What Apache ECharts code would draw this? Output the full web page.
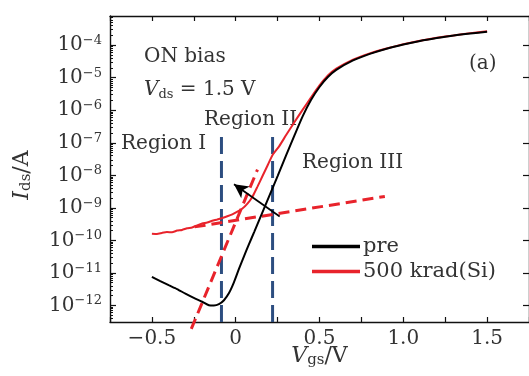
<!DOCTYPE html>
<html>
<head>
<meta charset="utf-8">
<script src="https://cdn.jsdelivr.net/npm/echarts@6/dist/echarts.min.js"></script>
<style>
  html, body { margin: 0; padding: 0; background: #fff; }
  #chart { width: 529px; height: 376px; }
</style>
</head>
<body>
<div id="chart"></div>
<script>
// ---------------- data ----------------
const xTicks = [-0.5, 0, 0.5, 1.0, 1.5];
const yTickExponents = [-12, -11, -10, -9, -8, -7, -6, -5, -4];

// pre-irradiation transfer curve
const vgsPre = [-0.50, -0.45, -0.40, -0.35, -0.30, -0.25, -0.20, -0.16, -0.13, -0.10, -0.07, -0.04, -0.01,
  0.02, 0.05, 0.08, 0.11, 0.15, 0.20, 0.25, 0.30, 0.35, 0.40, 0.45, 0.50, 0.55, 0.60, 0.70, 0.80, 0.90,
  1.00, 1.10, 1.20, 1.30, 1.40, 1.50];
const idsPre = [7.6e-12, 5.6e-12, 4.2e-12, 3.2e-12, 2.3e-12, 1.7e-12, 1.3e-12, 1.02e-12, 1.0e-12, 1.1e-12,
  1.45e-12, 2.4e-12, 5.2e-12, 1.35e-11, 3.3e-11, 7.8e-11, 1.8e-10, 5.6e-10, 2.3e-9, 9.5e-9, 4.0e-8, 1.66e-7,
  6.6e-7, 2.1e-6, 5.2e-6, 1.05e-5, 1.74e-5, 3.4e-5, 5.4e-5, 7.8e-5, 1.05e-4, 1.35e-4, 1.66e-4, 2.0e-4,
  2.3e-4, 2.57e-4];

// after 500 krad(Si)
const vgsRad = [-0.50, -0.47, -0.44, -0.41, -0.38, -0.35, -0.32, -0.29, -0.26, -0.23, -0.20, -0.17, -0.14,
  -0.11, -0.08, -0.05, -0.02, 0.01, 0.04, 0.07, 0.10, 0.13, 0.16, 0.19, 0.22, 0.26, 0.30, 0.35, 0.40, 0.45,
  0.50, 0.55, 0.60, 0.70, 0.80, 0.90, 1.00, 1.10, 1.20, 1.30, 1.40, 1.50];
const idsRad = [1.6e-10, 1.58e-10, 1.7e-10, 1.8e-10, 1.78e-10, 2.0e-10, 2.1e-10, 2.35e-10, 2.5e-10, 2.9e-10,
  3.3e-10, 3.55e-10, 4.0e-10, 4.4e-10, 4.9e-10, 5.5e-10, 6.3e-10, 7.6e-10, 9.5e-10, 1.35e-9, 2.2e-9, 4.5e-9,
  9.5e-9, 2.0e-8, 4.2e-8, 7.9e-8, 1.7e-7, 4.3e-7, 1.05e-6, 2.5e-6, 5.8e-6, 1.17e-5, 1.9e-5, 3.6e-5, 5.6e-5,
  7.9e-5, 1.07e-4, 1.38e-4, 1.7e-4, 2.0e-4, 2.35e-4, 2.7e-4];

// fitted (dashed) lines
const steepFitV = [-0.265, 0.13];
const steepFitI = [1.9e-13, 1.5e-8];
const flatFitV = [-0.245, 0.89];
const flatFitI = [2.6e-10, 2.24e-9];

// region boundaries (vertical dashed lines)
const regionBoundV = [-0.085, 0.22];
const regionBoundTopI = 1.5e-7;

// arrow (tail -> head)
const arrowV = [0.2625, -0.01];
const arrowI = [5.4e-10, 5.3e-9];

// axis ranges
const xMin = -0.75, xMax = 1.75, xStep = 0.25;
const yMin = 3.1e-13, yMax = 7.9e-4;

// ---------------- chart ----------------
const FONT = 'DejaVu Serif';
const TXT = '#333';
const RED = '#e8232b';
const BLUE = '#2d4e80';

const zip = (a, b) => a.map((v, i) => [v, b[i]]);

// tick positions of the log axis (decades and 2..9 × decade minor ticks)
const majorYTicks = yTickExponents.map(e => Math.pow(10, e));
const minorYTicks = [];
for (let e = -13; e <= -4; e++) {
  for (let k = 2; k <= 9; k++) {
    const v = k * Math.pow(10, e);
    if (v > yMin && v < yMax) minorYTicks.push(v);
  }
}

function yLabel(v) {
  const l = Math.log10(v);
  const e = Math.round(l);
  if (Math.abs(l - e) > 1e-6 || yTickExponents.indexOf(e) < 0) return '';
  return '{b|10}{s|' + (e < 0 ? '\u2212' : '') + Math.abs(e) + '}';
}
function xLabel(v) {
  const r = Math.round(v * 100) / 100;
  const hit = xTicks.find(t => Math.abs(t - r) < 1e-6);
  if (hit === undefined) return '';
  if (hit === 0) return '0';
  return (hit < 0 ? '\u2212' : '') + Math.abs(hit).toFixed(1);
}

const chart = echarts.init(document.getElementById('chart'), null, { renderer: 'canvas' });

const axisLine = { show: true, onZero: false, lineStyle: { color: '#111', width: 1.4 } };

const series = [
  {
    name: 'pre', type: 'line', data: zip(vgsPre, idsPre), symbol: 'none', smooth: 0.2,
    lineStyle: { color: '#000', width: 2 }, itemStyle: { color: '#000' }, z: 5
  },
  {
    name: '500 krad(Si)', type: 'line', data: zip(vgsRad, idsRad), symbol: 'none', smooth: 0.15,
    lineStyle: { color: RED, width: 2 }, itemStyle: { color: RED }, z: 4
  },
  {
    name: 'fitSteep', type: 'line', data: zip(steepFitV, steepFitI), symbol: 'none', clip: false,
    lineStyle: { color: RED, width: 3, type: [11, 6] }, z: 3
  },
  {
    name: 'fitFlat', type: 'line', data: zip(flatFitV, flatFitI), symbol: 'none',
    lineStyle: { color: RED, width: 3, type: [11, 6] }, z: 3,
    markLine: {
      silent: true, symbol: ['none', 'arrow'], symbolSize: [11, 14], animation: false,
      label: { show: false },
      lineStyle: { color: '#000', width: 1.8, type: 'solid' },
      data: [[{ coord: [arrowV[0], arrowI[0]] }, { coord: [arrowV[1], arrowI[1]] }]]
    }
  }
];
regionBoundV.forEach((v, i) => {
  series.push({
    name: 'bound' + i, type: 'line', data: [[v, regionBoundTopI], [v, yMin]], symbol: 'none',
    lineStyle: { color: BLUE, width: 3, type: [17, 7] }, z: 2
  });
});

const titleRich = {
  i: { fontFamily: FONT, fontStyle: 'italic', fontSize: 22, color: TXT, fill: TXT, lineHeight: 24 },
  s: { fontFamily: FONT, fontSize: 15, color: TXT, fill: TXT, lineHeight: 12, verticalAlign: 'bottom' },
  n: { fontFamily: FONT, fontSize: 22, color: TXT, fill: TXT, lineHeight: 24 }
};

const tickStyle = { color: '#111', width: 1.2 };

const option = {
  animation: false,
  backgroundColor: '#fff',
  grid: { left: 110, right: 0, top: 16, bottom: 54, containLabel: false, outerBoundsMode: 'none' },
  legend: {
    data: ['pre', '500 krad(Si)'],
    orient: 'vertical', left: 312, top: 236, padding: 0,
    icon: 'rect', itemWidth: 48, itemHeight: 3.5, itemGap: 4,
    textStyle: { fontFamily: FONT, fontSize: 21, color: TXT, padding: [0, 0, 0, -2] }
  },
  xAxis: [
    {
      type: 'value', position: 'bottom', min: xMin, max: xMax, interval: xStep,
      axisLine, splitLine: { show: false },
      axisTick: { show: true, inside: true, length: 5, lineStyle: tickStyle },
      axisLabel: { formatter: xLabel, fontFamily: FONT, fontSize: 20, color: TXT, margin: 7,
        showMinLabel: true, showMaxLabel: true },
      name: '{i|V}{s|gs}{n|/V}', nameLocation: 'middle', nameGap: 22, nameMoveOverlap: false,
      nameTextStyle: { rich: titleRich }
    },
    {
      type: 'value', position: 'top', min: xMin, max: xMax, interval: xStep,
      axisLine, splitLine: { show: false },
      axisTick: { show: true, inside: true, length: 5, lineStyle: tickStyle },
      axisLabel: { show: false }
    }
  ],
  yAxis: [
    {
      type: 'log', logBase: 10, min: yMin, max: yMax, position: 'left',
      axisLine, splitLine: { show: false },
      axisTick: { show: true, inside: true, length: 6, lineStyle: tickStyle, customValues: majorYTicks },
      axisLabel: {
        formatter: yLabel, margin: 8, customValues: majorYTicks,
        rich: {
          b: { fontFamily: FONT, fontSize: 20, color: TXT, lineHeight: 22 },
          s: { fontFamily: FONT, fontSize: 13, color: TXT, lineHeight: 13, verticalAlign: 'top' }
        }
      }
    },
    {
      type: 'log', logBase: 10, min: yMin, max: yMax, position: 'right',
      axisLine, splitLine: { show: false },
      axisTick: { show: true, inside: true, length: 6, lineStyle: tickStyle, customValues: majorYTicks },
      axisLabel: { show: false }
    },
    {
      // minor ticks of the left log axis
      type: 'log', logBase: 10, min: yMin, max: yMax, position: 'left',
      axisLine: { show: false, onZero: false }, splitLine: { show: false },
      axisTick: { show: true, inside: true, length: 3, lineStyle: { color: '#111', width: 1 }, customValues: minorYTicks },
      axisLabel: { show: false }
    }
  ],
  series,
  graphic: [
    { type: 'text', x: 144, y: 57, style: { text: 'ON bias', font: '20px "DejaVu Serif"', fill: TXT, verticalAlign: 'middle', textVerticalAlign: 'middle' } },
    { type: 'text', x: 144, y: 90, style: {
        text: '{i|V}{s|ds}{n| = 1.5 V}', fill: TXT, verticalAlign: 'middle', textVerticalAlign: 'middle',
        rich: {
          i: { fontFamily: FONT, fontStyle: 'italic', fontSize: 20, fill: TXT, lineHeight: 22 },
          s: { fontFamily: FONT, fontSize: 13, fill: TXT, lineHeight: 11, verticalAlign: 'bottom' },
          n: { fontFamily: FONT, fontSize: 20, fill: TXT, lineHeight: 22 }
        } } },
    { type: 'text', x: 469, y: 64, style: { text: '(a)', font: '20px "DejaVu Serif"', fill: TXT, verticalAlign: 'middle', textVerticalAlign: 'middle' } },
    { type: 'text', x: 121, y: 144, style: { text: 'Region I', font: '20px "DejaVu Serif"', fill: TXT, verticalAlign: 'middle', textVerticalAlign: 'middle' } },
    { type: 'text', x: 204, y: 120, style: { text: 'Region II', font: '20px "DejaVu Serif"', fill: TXT, verticalAlign: 'middle', textVerticalAlign: 'middle' } },
    { type: 'text', x: 302, y: 163, style: { text: 'Region III', font: '20px "DejaVu Serif"', fill: TXT, verticalAlign: 'middle', textVerticalAlign: 'middle' } },
    { type: 'text', x: 22, y: 175, rotation: Math.PI / 2, style: {
        text: '{i|I}{s|ds}{n|/A}', fill: TXT, align: 'center', textAlign: 'center', verticalAlign: 'middle', textVerticalAlign: 'middle',
        rich: titleRich } }
  ]
};
chart.setOption(option);
</script>
</body>
</html>
